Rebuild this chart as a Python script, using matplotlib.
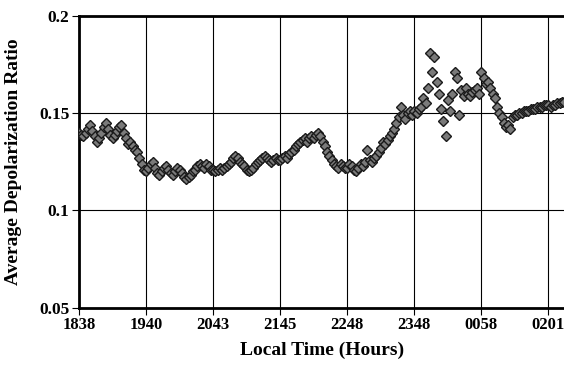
import numpy as np
import matplotlib
matplotlib.use("Agg")
import matplotlib.pyplot as plt

# category axis: 30 samples between labelled times
time_labels = ["1838", "1940", "2043", "2145", "2248", "2348", "0058", "0201"]
points_per_label = 30

ratio_1838 = [0.140, 0.139, 0.138, 0.140, 0.142, 0.144, 0.141, 0.138, 0.135, 0.137,
              0.140, 0.143, 0.145, 0.142, 0.139, 0.137, 0.139, 0.141, 0.143, 0.144,
              0.140, 0.137, 0.134, 0.135, 0.133, 0.131, 0.130, 0.127, 0.124, 0.121]
ratio_1940 = [0.120, 0.122, 0.124, 0.125, 0.122, 0.119, 0.118, 0.120, 0.122, 0.123,
              0.121, 0.119, 0.118, 0.120, 0.122, 0.121, 0.119, 0.117, 0.116, 0.117,
              0.118, 0.120, 0.121, 0.123, 0.124, 0.123, 0.122, 0.124, 0.123, 0.121]
ratio_2043 = [0.121, 0.120, 0.121, 0.122, 0.121, 0.122, 0.123, 0.124, 0.125, 0.127,
              0.128, 0.127, 0.125, 0.124, 0.123, 0.121, 0.120, 0.121, 0.122, 0.124,
              0.125, 0.126, 0.127, 0.128, 0.127, 0.126, 0.125, 0.126, 0.127, 0.126]
ratio_2145 = [0.126, 0.127, 0.128, 0.127, 0.129, 0.130, 0.131, 0.133, 0.134, 0.135,
              0.136, 0.137, 0.135, 0.137, 0.138, 0.137, 0.139, 0.140, 0.138, 0.135,
              0.133, 0.130, 0.128, 0.126, 0.124, 0.123, 0.122, 0.124, 0.123, 0.122]
ratio_2248 = [0.122, 0.124, 0.123, 0.121, 0.120, 0.122, 0.124, 0.123, 0.125, 0.131,
              0.126, 0.125, 0.127, 0.128, 0.130, 0.132, 0.135, 0.134, 0.136, 0.138,
              0.140, 0.142, 0.145, 0.148, 0.153, 0.149, 0.147, 0.150, 0.151, 0.149]
ratio_2348 = [0.151, 0.150, 0.152, 0.153, 0.158, 0.155, 0.163, 0.181, 0.171, 0.179,
              0.166, 0.160, 0.152, 0.146, 0.138, 0.157, 0.151, 0.160, 0.171, 0.168,
              0.149, 0.162, 0.159, 0.163, 0.160, 0.159, 0.161, 0.162, 0.163, 0.160]
ratio_0058 = [0.171, 0.168, 0.165, 0.166, 0.163, 0.160, 0.158, 0.153, 0.150, 0.148,
              0.145, 0.143, 0.144, 0.142, 0.148, 0.149, 0.149, 0.150, 0.150, 0.151,
              0.151, 0.151, 0.152, 0.152, 0.152, 0.153, 0.153, 0.153, 0.154, 0.154]
ratio_0201 = [0.154, 0.153, 0.154, 0.154, 0.155, 0.155, 0.156, 0.156]

ratio = (ratio_1838 + ratio_1940 + ratio_2043 + ratio_2145 + ratio_2248
         + ratio_2348 + ratio_0058 + ratio_0201)
x = np.arange(len(ratio))

plt.rcParams['font.family'] = ['Liberation Serif', 'DejaVu Serif']
plt.rcParams['font.weight'] = 'bold'

fig = plt.figure(figsize=(5.64, 3.77), dpi=100)
ax = fig.add_axes([79 / 564, 1 - 307.5 / 377, (565 - 79) / 564, (307.5 - 16) / 377])

ax.plot(x, ratio, 'D', ms=4.8, mfc='#7a7a7a', mec='#1a1a1a', mew=1.0, zorder=3)

ax.set_xlim(0, 217.4)
ax.set_ylim(0.05, 0.2)
ax.set_xticks(np.arange(len(time_labels)) * points_per_label)
ax.set_xticklabels(time_labels)
ax.set_yticks([0.05, 0.1, 0.15, 0.2])
ax.set_yticklabels(['0.05', '0.1', '0.15', '0.2'])
ax.tick_params(labelsize=12.5, length=5, width=0.8, direction='out', pad=2)
ax.tick_params(axis='x', labelsize=12)

ax.grid(True, color='black', linewidth=0.8)
ax.set_axisbelow(True)
for side in ['left', 'top', 'bottom']:
    ax.spines[side].set_linewidth(2)
ax.spines['right'].set_visible(False)

ax.set_xlabel('Local Time (Hours)', fontsize=14, fontweight='bold', labelpad=6)
ax.set_ylabel('Average Depolarization Ratio', fontsize=14, fontweight='bold', labelpad=12)

fig.savefig('out.png', dpi=100)
